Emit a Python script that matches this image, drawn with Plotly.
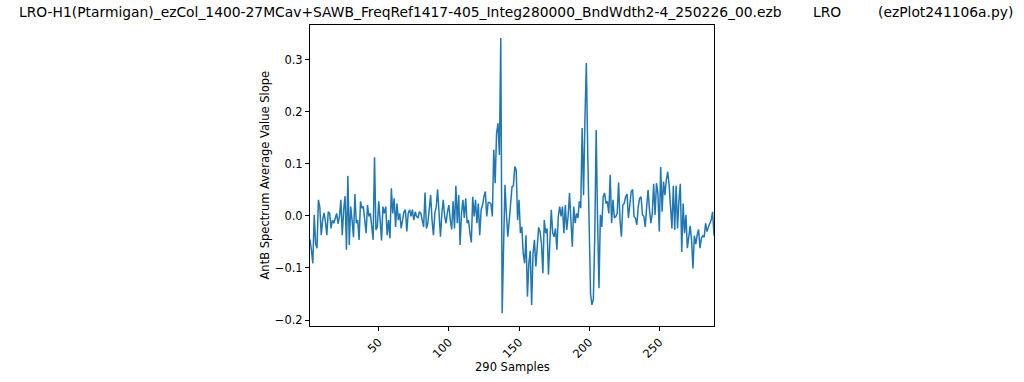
import plotly.graph_objects as go

# AntB spectrum average value slope, one value per sample (index 0..289)
values = [
    -0.046, -0.046, -0.065, -0.091, 0.002, -0.053, -0.062, 0.031, 0.017, -0.037,
    -0.008, 0.006, -0.011, -0.037, 0.008, 0.005, -0.024, -0.008, -0.014, -0.001,
    0.005, -0.015, -0.001, 0.031, -0.037, 0.012, 0.038, -0.065, 0.077, -0.056,
    0.018, -0.008, -0.041, 0.042, -0.014, -0.008, -0.046, 0.028, 0.015, 0.018,
    -0.008, -0.033, 0.021, -0.001, 0.005, -0.021, -0.046, 0.113, -0.027, -0.021,
    0.028, -0.008, -0.047, 0.018, 0.005, 0.018, -0.037, -0.008, -0.043, 0.053,
    0.005, 0.034, -0.021, 0.024, -0.008, 0.005, -0.024, -0.008, 0.008, 0.012,
    -0.030, 0.005, 0.012, -0.001, 0.012, -0.008, 0.008, -0.001, -0.004, 0.008,
    0.005, -0.008, -0.021, 0.045, -0.024, -0.014, 0.018, 0.040, -0.008, -0.037,
    0.005, 0.018, 0.051, -0.008, -0.040, 0.005, 0.031, -0.001, -0.014, 0.008,
    0.021, -0.008, -0.026, 0.028, -0.024, 0.058, -0.014, 0.040, -0.056, 0.005,
    0.031, -0.004, 0.034, -0.014, -0.008, -0.033, -0.051, 0.037, -0.001, 0.031,
    -0.014, 0.024, -0.037, 0.012, 0.021, 0.037, 0.047, -0.001, 0.026, 0.026,
    0.023, -0.001, 0.127, 0.063, 0.159, 0.178, 0.117, 0.342, -0.187, -0.059,
    0.060, 0.005, -0.040, -0.010, 0.028, 0.056, 0.058, 0.095, 0.088, -0.008,
    0.031, -0.033, -0.021, -0.072, -0.091, -0.037, -0.155, -0.091, -0.067, -0.171,
    -0.072, -0.046, -0.097, -0.046, -0.022, -0.030, -0.053, -0.110, -0.008, -0.033,
    -0.024, -0.113, -0.046, 0.012, -0.033, -0.040, -0.024, -0.065, -0.001, 0.018,
    -0.001, 0.018, -0.033, 0.021, -0.027, -0.001, 0.044, -0.008, -0.059, 0.018,
    -0.014, 0.005, -0.004, 0.028, 0.015, 0.169, 0.040, 0.185, 0.294, 0.120,
    -0.060, -0.150, -0.171, -0.160, -0.040, 0.165, -0.008, -0.139, 0.002, -0.021,
    0.037, 0.044, 0.024, 0.028, 0.005, 0.079, -0.014, 0.031, -0.004, -0.001,
    0.005, 0.064, -0.008, -0.040, 0.021, 0.024, 0.037, 0.042, -0.004, 0.024,
    0.047, 0.051, -0.001, -0.004, -0.017, 0.018, 0.034, 0.037, 0.002, -0.001,
    -0.021, 0.018, 0.050, 0.012, -0.014, 0.005, 0.062, 0.002, 0.063, 0.044,
    -0.030, 0.094, 0.008, 0.066, 0.040, 0.069, 0.085, 0.060, 0.020, -0.024,
    0.058, -0.027, 0.058, -0.024, 0.030, 0.062, -0.069, 0.024, -0.033, 0.002,
    -0.062, -0.040, -0.019, -0.046, -0.101, -0.038, -0.054, -0.037, -0.026, -0.062,
    -0.043, -0.038, -0.041, -0.014, -0.030, -0.021, -0.015, -0.008, 0.008, -0.038,
]
samples = list(range(len(values)))

x_tick_vals = [50, 100, 150, 200, 250]
y_tick_vals = [-0.2, -0.1, 0.0, 0.1, 0.2, 0.3]
y_tick_text = [("\u2212%.1f" % abs(v)) if v < 0 else ("%.1f" % v) for v in y_tick_vals]

title_left = "LRO-H1(Ptarmigan)_ezCol_1400-27MCav+SAWB_FreqRef1417-405_Integ280000_BndWdth2-4_250226_00.ezb"
title_mid = "LRO"
title_right = "(ezPlot241106a.py)"
x_label = "290 Samples"
y_label = "AntB Spectrum Average Value Slope"

fig = go.Figure(
    go.Scatter(
        x=samples, y=values, mode="lines",
        line=dict(color="#1f77b4", width=1.5),
        hoverinfo="skip",
    )
)

axis_common = dict(
    ticks="outside", ticklen=4, tickwidth=1, tickcolor="black",
    showline=True, linecolor="black", linewidth=1, mirror=True,
    showgrid=False, zeroline=False,
    tickfont=dict(family="DejaVu Sans", size=11.5, color="black"),
)

fig.update_layout(
    width=1024, height=382,
    margin=dict(l=310, r=310, t=25, b=56),
    paper_bgcolor="white", plot_bgcolor="white",
    showlegend=False,
    font=dict(family="DejaVu Sans", size=11.5, color="black"),
    xaxis=dict(range=[1, 289], tickvals=x_tick_vals, tickangle=-45, **axis_common),
    yaxis=dict(range=[-0.2115, 0.367], tickvals=y_tick_vals, ticktext=y_tick_text, **axis_common),
)

W = 404.0
H = 301.0
def px_x(p):
    return (p - 310) / W
def px_y(p):
    return (326 - p) / H

tfont = dict(family="DejaVu Sans", size=13.85, color="black")
fig.add_annotation(text=title_left, x=px_x(17), y=px_y(12), xref="paper", yref="paper",
                   xanchor="left", yanchor="middle", showarrow=False, font=tfont)
fig.add_annotation(text=title_mid, x=px_x(811), y=px_y(12), xref="paper", yref="paper",
                   xanchor="left", yanchor="middle", showarrow=False, font=tfont)
fig.add_annotation(text=title_right, x=px_x(1015), y=px_y(12), xref="paper", yref="paper",
                   xanchor="right", yanchor="middle", showarrow=False, font=tfont)
fig.add_annotation(text=x_label, x=0.5, y=px_y(367), xref="paper", yref="paper",
                   xanchor="center", yanchor="middle", showarrow=False,
                   font=dict(family="DejaVu Sans", size=11.5, color="black"))
fig.add_annotation(text=y_label, x=px_x(264), y=0.5, xref="paper", yref="paper",
                   xanchor="center", yanchor="middle", showarrow=False, textangle=-90,
                   font=dict(family="DejaVu Sans", size=11.5, color="black"))

fig.write_html("out.html", config={"displayModeBar": False},
               post_script="document.body.style.margin='0';")
